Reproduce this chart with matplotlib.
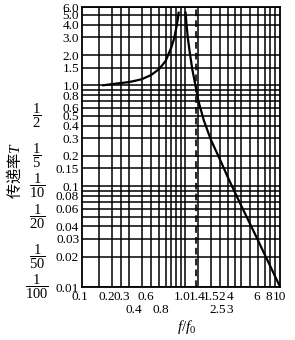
import matplotlib
matplotlib.use('Agg')
import matplotlib.pyplot as plt
from matplotlib.ticker import NullFormatter, FixedLocator

plt.rcParams['font.family'] = ['Liberation Serif', 'Noto Sans CJK SC']
plt.rcParams['mathtext.fontset'] = 'custom'
plt.rcParams['mathtext.rm'] = 'Liberation Serif'
plt.rcParams['mathtext.it'] = 'Liberation Serif:italic'

# ---- data ----
left_r = [0.16, 0.2, 0.3, 0.4, 0.5, 0.6, 0.7, 0.8, 0.85, 0.9, 0.93, 0.95]
left_T = [1.0, 1.03, 1.08, 1.15, 1.27, 1.45, 1.75, 2.4, 2.9, 3.8, 4.6, 5.4]
right_r = [1.11, 1.13, 1.17, 1.22, 1.3, 1.414, 1.5, 1.7, 2.0, 2.5, 3.0, 4.0,
           5.0, 6.0, 7.0, 8.0, 9.0, 10.0]
right_T = [5.4, 4.3, 3.0, 2.2, 1.45, 0.95, 0.7, 0.45, 0.29, 0.18, 0.12, 0.066,
           0.042, 0.029, 0.021, 0.016, 0.0125, 0.0101]
resonance_line = [1.414]

x_grid = [0.15, 0.2, 0.25, 0.3, 0.4, 0.5, 0.6, 0.7, 0.8, 0.9, 1.0, 1.1,
          1.5, 2, 2.5, 3, 3.5, 4, 5, 6, 7, 8, 9]
y_ticks = [6.0, 5.0, 4.0, 3.0, 2.0, 1.5, 1.0, 0.8, 0.6, 0.5, 0.4, 0.3, 0.2,
           0.15, 0.1, 0.08, 0.06, 0.04, 0.03, 0.02, 0.01]
y_tick_labels = ['6.0', '5.0', '4.0', '3.0', '2.0', '1.5', '1.0', '0.8', '0.6',
                 '0.5', '0.4', '0.3', '0.2', '0.15', '0.1', '0.08', '0.06',
                 '0.04', '0.03', '0.02', '0.01']
y_extra_grid = [0.9, 0.7, 0.09, 0.07, 0.05]

frac_values = [0.5, 0.2, 0.1, 0.05, 0.02, 0.01]
frac_labels = [r'$\dfrac{1}{2}$', r'$\dfrac{1}{5}$', r'$\dfrac{1}{10}$',
               r'$\dfrac{1}{20}$', r'$\dfrac{1}{50}$', r'$\dfrac{1}{100}$']

x_labels_row1 = ['0.1', '0.2', '0.3', '0.6', '1.0', '1.4', '1.5', '2', '4',
                 '6', '8', '10']
x_labels_row2 = ['0.4', '0.8', '2.5', '3']
# label centres (pixel layout)
x_row1_px = [79.5, 107, 122, 146, 182, 197, 211, 222, 230, 257, 269, 279]
x_row2_px = [134, 161, 218, 230]

# ---- figure ----
fig = plt.figure(figsize=(2.95, 3.4), dpi=100)
L, R, T, B = 82, 280, 7, 287
W, H = 295, 340
ax = fig.add_axes([L / W, 1 - B / H, (R - L) / W, (B - T) / H])
ax.set_xscale('log')
ax.set_yscale('log')
ax.set_xlim(0.1, 10)
ax.set_ylim(0.01, 6.0)

ax.xaxis.set_major_locator(FixedLocator(x_grid))
ax.xaxis.set_minor_locator(FixedLocator([]))
ax.xaxis.set_major_formatter(NullFormatter())
ax.xaxis.set_minor_formatter(NullFormatter())
ax.yaxis.set_major_locator(FixedLocator(y_ticks))
ax.yaxis.set_minor_locator(FixedLocator(y_extra_grid))
ax.set_yticklabels(y_tick_labels)
ax.yaxis.set_minor_formatter(NullFormatter())
ax.tick_params(which='both', length=0)
ax.tick_params(axis='y', pad=2, labelsize=9.5)
ax.grid(True, which='both', color='black', linewidth=1.1)

for s in ax.spines.values():
    s.set_linewidth(1.3)

ax.plot(left_r, left_T, color='black', linewidth=1.6, solid_capstyle='butt')
ax.plot(right_r, right_T, color='black', linewidth=1.6, solid_capstyle='butt')
for xv in resonance_line:
    ax.axvline(xv, color='black', linewidth=1.2, linestyle=(0, (4, 2.5)))

def axfx(px):
    return (px - L) / (R - L)

def axfy(py):
    return (B - py) / (B - T)

for lab, px in zip(x_labels_row1, x_row1_px):
    ax.text(axfx(px), axfy(297), lab, transform=ax.transAxes, ha='center',
            va='center', fontsize=9.5)
for lab, px in zip(x_labels_row2, x_row2_px):
    ax.text(axfx(px), axfy(310), lab, transform=ax.transAxes, ha='center',
            va='center', fontsize=9.5)

ax.text(axfx(187), axfy(327), r'$f/f_0$', transform=ax.transAxes,
        ha='center', va='center', fontsize=11)

trans = ax.get_yaxis_transform()
for lab, v in zip(frac_labels, frac_values):
    ax.text(axfx(37), v, lab, transform=trans, ha='center', va='center',
            fontsize=10.5)

ax.text(axfx(14), axfy(170), '传递率$T$', transform=ax.transAxes,
        rotation=90, ha='center', va='center', fontsize=11,
        family=['Noto Sans CJK SC', 'DejaVu Sans'])

fig.savefig('out.png', dpi=100)
